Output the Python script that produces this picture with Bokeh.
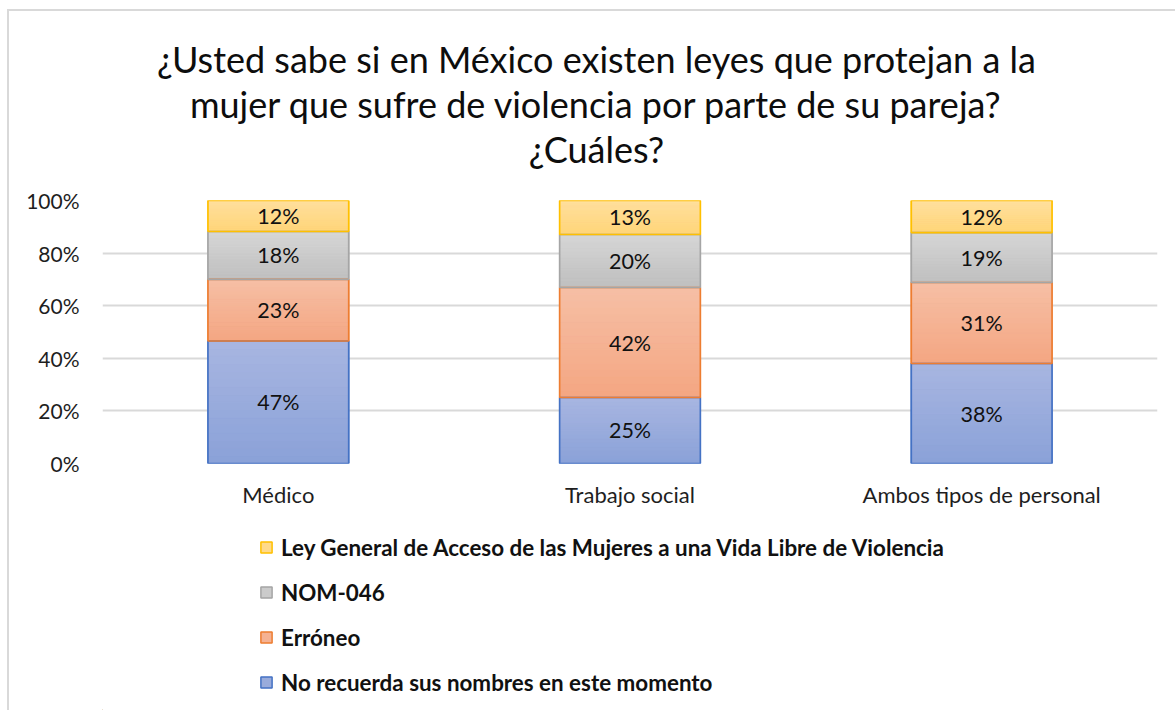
from bokeh.plotting import figure
from bokeh.layouts import column
from bokeh.models import (ColumnDataSource, FactorRange, Range1d, FixedTicker, Legend, LegendItem, Label)
from bokeh.core.properties import value
from bokeh.embed import file_html
from bokeh.resources import INLINE

categories = ["Médico", "Trabajo social", "Ambos tipos de personal"]
series_names = [
    "No recuerda sus nombres en este momento",
    "Erróneo",
    "NOM-046",
    "Ley General de Acceso de las Mujeres a una Vida Libre de Violencia",
]
no_recuerda = [46.6, 25.1, 38.0]
erroneo = [23.4, 41.8, 30.8]
nom046 = [18.2, 20.2, 19.0]
ley_general = [11.8, 12.9, 12.2]
y_ticks = [0, 20, 40, 60, 80, 100]
y_tick_labels = ["0%", "20%", "40%", "60%", "80%", "100%"]
title_lines = [
    "¿Usted sabe si en México existen leyes que protejan a la",
    "mujer que sufre de violencia por parte de su pareja?",
    "¿Cuáles?",
]

FONT = "Lato"
W = 1166
cols = ["no_recuerda", "erroneo", "nom046", "ley_general"]
series_values = [no_recuerda, erroneo, nom046, ley_general]
fills = ["#99abdb", "#f5b293", "#cbcbcb", "#ffda8b"]
lines = ["#4472c4", "#ed7d31", "#a5a5a5", "#ffc000"]
grad_top = [(168, 182, 225), (246, 191, 165), (214, 214, 214), (255, 223, 158)]
grad_bot = [(138, 161, 216), (244, 166, 130), (191, 191, 191), (255, 213, 120)]


def blank(fig):
    fig.grid.grid_line_color = None
    fig.outline_line_color = None
    fig.background_fill_color = "white"
    fig.border_fill_color = "white"


# ---------- title ----------
TH = 169
pt = figure(width=W, height=TH, output_backend="svg", toolbar_location=None,
            x_range=Range1d(0, 1), y_range=Range1d(0, 1), min_border=0,
            x_axis_location=None, y_axis_location=None)
blank(pt)
for k, line in enumerate(title_lines):
    pt.add_layout(Label(x=494, y=122 - 45 * k, x_units="screen", y_units="screen", text=line,
                        text_align="center", text_baseline="alphabetic", text_font=FONT,
                        text_font_size="36px", text_color="#0d0d0d"))

# ---------- main chart ----------
MH = 345
source = ColumnDataSource(dict(cat=categories, no_recuerda=no_recuerda, erroneo=erroneo,
                               nom046=nom046, ley_general=ley_general))
p = figure(width=W, height=MH, output_backend="svg", toolbar_location=None,
           x_range=FactorRange(*categories), y_range=Range1d(0, 100),
           min_border_left=93, min_border_right=18, min_border_top=20, min_border_bottom=62)
p.outline_line_color = None
p.background_fill_color = "white"
p.border_fill_color = "white"

BAR_W = 0.4
p.vbar_stack(cols, x="cat", width=BAR_W, source=source,
             fill_color=fills, line_color=lines, line_width=1.5)

# gradient strips over each segment
N = 16
gx, gtop, gbot, gcol = [], [], [], []
bottoms = [0.0] * len(categories)
for s, vals in enumerate(series_values):
    for i, v in enumerate(vals):
        b = bottoms[i]
        for k in range(N):
            f = (k + 0.5) / N  # 0 at bottom, 1 at top
            c = tuple(int(round(grad_bot[s][j] + (grad_top[s][j] - grad_bot[s][j]) * f)) for j in range(3))
            gx.append(categories[i])
            gbot.append(b + v * k / N)
            gtop.append(b + v * (k + 1) / N)
            gcol.append("#%02x%02x%02x" % c)
        bottoms[i] += v
p.vbar(x="cat", top="top", bottom="bottom", width=BAR_W,
       source=ColumnDataSource(dict(cat=gx, top=gtop, bottom=gbot, color=gcol)),
       fill_color="color", line_color="color", line_width=0.8)

# outlines on top
p.vbar_stack(cols, x="cat", width=BAR_W, source=source,
             fill_color=None, line_color=lines, line_width=1.6)

# data labels
lx, ly, lt = [], [], []
bottoms = [0.0] * len(categories)
for vals in series_values:
    for i, v in enumerate(vals):
        lx.append(categories[i])
        ly.append(bottoms[i] + v / 2)
        lt.append(f"{round(v)}%")
        bottoms[i] += v
p.text(x="cat", y="y", text="t", source=ColumnDataSource(dict(cat=lx, y=ly, t=lt)),
       text_align="center", text_baseline="middle", text_font=value(FONT),
       text_font_size="21.5px", text_color="#111111")

p.yaxis.ticker = FixedTicker(ticks=y_ticks)
p.yaxis.major_label_overrides = {t: l for t, l in zip(y_ticks, y_tick_labels)}
for ax in (p.xaxis, p.yaxis):
    ax.axis_line_color = None
    ax.major_tick_line_color = None
    ax.minor_tick_line_color = None
    ax.major_label_text_font = FONT
    ax.major_label_text_color = "#1e1e1e"
p.yaxis.major_label_text_font_size = "21px"
p.xaxis.major_label_text_font_size = "22px"
p.yaxis.major_label_standoff = 17
p.xaxis.major_label_standoff = 11
p.xgrid.grid_line_color = None
p.ygrid.grid_line_color = "#d9d9d9"
p.ygrid.grid_line_width = 2

# ---------- legend ----------
LH = 185
pl = figure(width=W, height=LH, output_backend="svg", toolbar_location=None,
            x_range=Range1d(0, 1), y_range=Range1d(0, 1), min_border=0,
            x_axis_location=None, y_axis_location=None)
blank(pl)
swatches = []
for s in range(4):
    # swatch renderers for the legend; their single point lies outside the view
    swatches.append(pl.vbar(x=[-5], top=[-5], bottom=[-6], width=0.1, fill_color=fills[s],
                            line_color=lines[s], line_width=1.5))
legend = Legend(items=[LegendItem(label=series_names[s], renderers=[swatches[s]]) for s in reversed(range(4))],
                location=(157, 13), orientation="vertical",
                glyph_width=14, glyph_height=14, label_standoff=8, label_height=30, spacing=15,
                padding=0, margin=0, border_line_color=None, background_fill_alpha=0,
                label_text_font=FONT, label_text_font_style="bold", label_text_font_size="22.4px",
                label_text_color="#111111", label_text_baseline="middle")
pl.add_layout(legend)

layout = column(pt, p, pl, spacing=0)
layout.styles = {"margin-left": "7px", "margin-top": "9px",
                 "border-left": "2px solid #d9d9d9", "border-top": "2px solid #d9d9d9"}
open("out.html", "w").write(file_html(layout, INLINE))
